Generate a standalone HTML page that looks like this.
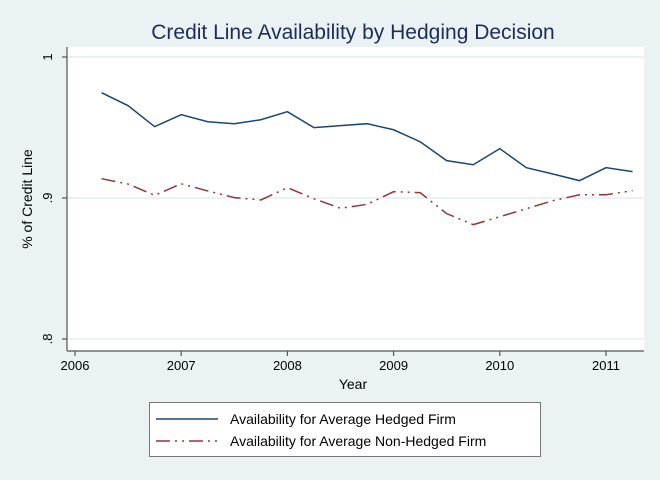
<!DOCTYPE html>
<html><head><meta charset="utf-8"><style>
html,body{margin:0;padding:0;background:#eaf2f3;}
svg{display:block;font-family:"Liberation Sans",sans-serif;}
</style></head><body>
<svg width="660" height="480" viewBox="0 0 660 480">
<rect x="0" y="0" width="660" height="480" fill="#eaf2f3"/>
<text x="353" y="39" text-anchor="middle" font-size="21" fill="#1c2d5a">Credit Line Availability by Hedging Decision</text>
<rect x="67" y="47" width="577" height="304" fill="#ffffff"/>
<g id="grid"></g>
<line x1="67" y1="47" x2="67" y2="351" stroke="#555" stroke-width="1.2"/>
<line x1="67" y1="351" x2="644" y2="351" stroke="#555" stroke-width="1.2"/>
<g id="yticks"></g>
<g id="xticks"></g>
<text transform="translate(32,199) rotate(-90)" text-anchor="middle" font-size="14" fill="#000">% of Credit Line</text>
<text x="353" y="389" text-anchor="middle" font-size="14" fill="#000">Year</text>
<g id="series"></g>
<g>
<rect x="149.5" y="402.5" width="391" height="54" fill="#fff" stroke="#777"/>
<line x1="156" y1="419" x2="218" y2="419" stroke="#1a476f" stroke-width="1.5"/>
<text x="230" y="424" font-size="14" fill="#000">Availability for Average Hedged Firm</text>
<line x1="156" y1="441" x2="218" y2="441" stroke="#90353b" stroke-width="1.5" stroke-dasharray="14,5,2,5,2,5"/>
<text x="230" y="446" font-size="14" fill="#000">Availability for Average Non-Hedged Firm</text>
</g>
</svg>
<script>
const quarters=[2006.25,2006.5,2006.75,2007,2007.25,2007.5,2007.75,2008,2008.25,2008.5,2008.75,2009,2009.25,2009.5,2009.75,2010,2010.25,2010.5,2010.75,2011,2011.25];
const hedged=[.9747,.9655,.9506,.9591,.9541,.9527,.9555,.9612,.9499,.9513,.9527,.9484,.9399,.9265,.9236,.9350,.9215,.9170,.9123,.9215,.9187];
const nonHedged=[.9137,.9099,.9019,.9101,.9050,.9003,.8986,.9073,.8995,.8927,.8955,.9045,.9038,.8889,.8811,.8867,.8924,.8981,.9023,.9023,.9052];
const yTicks=[1,.9,.8];
const yTickLabels=["1",".9",".8"];
const xTicks=[2006,2007,2008,2009,2010,2011];
const NS="http://www.w3.org/2000/svg";
function xs(v){return 75+(v-2006)*106.2;}
function ys(v){return 57+(1-v)*1410;}
function mk(tag,attrs,parent){const e=document.createElementNS(NS,tag);for(const k in attrs)e.setAttribute(k,attrs[k]);parent.appendChild(e);return e;}
const grid=document.getElementById('grid'),yt=document.getElementById('yticks'),xt=document.getElementById('xticks'),ser=document.getElementById('series');
yTicks.forEach((v,i)=>{
 const g=mk('line',{x1:67,x2:644,y1:ys(v),y2:ys(v),stroke:'#eaf2f3','stroke-width':2},grid);
 
 
 const t=mk('line',{x1:62,x2:67,y1:ys(v),y2:ys(v),stroke:'#555','stroke-width':1.2},yt);
 
 
 const l=mk('text',{transform:`translate(52,${ys(v)}) rotate(-90)`,'text-anchor':'middle','font-size':13},yt);
 l.textContent=yTickLabels[i];
 
 
});
xTicks.forEach(v=>{
 const t=mk('line',{x1:xs(v),x2:xs(v),y1:351,y2:356,stroke:'#555','stroke-width':1.2},xt);
 
 
 const l=mk('text',{x:xs(v),y:370,'text-anchor':'middle','font-size':13},xt);
 l.textContent=String(v);
 
 
});
const p1=mk('polyline',{points:quarters.map((q,i)=>xs(q)+','+ys(hedged[i])).join(' '),fill:'none',stroke:'#1a476f','stroke-width':1.5},ser);


const p2=mk('polyline',{points:quarters.map((q,i)=>xs(q)+','+ys(nonHedged[i])).join(' '),fill:'none',stroke:'#90353b','stroke-width':1.5,'stroke-dasharray':'14,5,2,5,2,5'},ser);


</script>
</body></html>
